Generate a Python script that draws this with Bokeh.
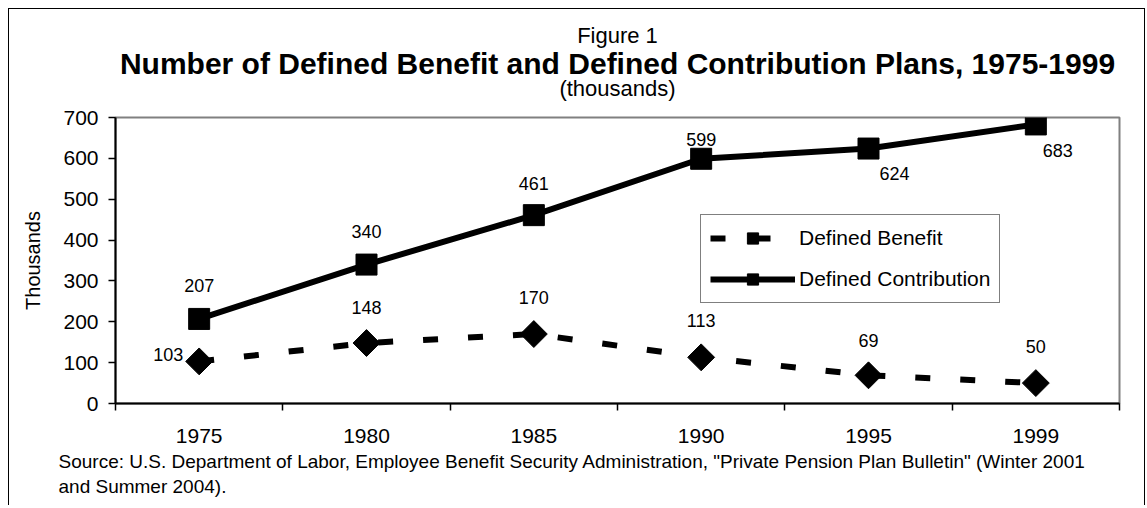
import math
from bokeh.plotting import figure
from bokeh.layouts import column
from bokeh.models import (Range1d, FixedTicker, Legend, LegendItem, Title, Label, ColumnDataSource)
from bokeh.core.properties import value
from bokeh.embed import file_html
from bokeh.resources import INLINE

# ---- data ----
years = ["1975", "1980", "1985", "1990", "1995", "1999"]
defined_benefit = [103, 148, 170, 113, 69, 50]
defined_contribution = [207, 340, 461, 599, 624, 683]
y_ticks = [0, 100, 200, 300, 400, 500, 600, 700]

# ---- label placement (styles, px) ----
db_dx = [-31, 0, 0, 0, 0, 0]
db_dy = [-7, -36, -37, -37, -35, -37]
dc_dx = [0, 0, 0, 0, 26, 22]
dc_dy = [-33, -33, -32, -19, 25, 26]

FONT = "Liberation Sans"
W = 1135
TOP_H = 96
BL, BR = 106, 25
xs = list(range(len(years)))

# ---------------- title strip ----------------
tf = figure(width=W, height=TOP_H, output_backend="svg", toolbar_location=None,
            x_range=Range1d(0, 1), y_range=Range1d(TOP_H, 0),
            min_border_left=BL, min_border_right=BR, min_border_top=0, min_border_bottom=0)
tf.axis.visible = False
tf.grid.visible = False
tf.outline_line_color = None
tf.background_fill_color = "white"
tf.border_fill_color = "white"
tf.add_layout(Label(x=0.5, y=25.5, text="Figure 1", text_align="center", text_baseline="middle",
                    text_font=FONT, text_font_size="22px", text_color="black"))
tf.add_layout(Label(x=0.5, y=53.5,
                    text="Number of Defined Benefit and Defined Contribution Plans, 1975-1999",
                    text_align="center", text_baseline="middle", text_font=FONT,
                    text_font_size="30px", text_font_style="bold", text_color="black"))
tf.add_layout(Label(x=0.5, y=78.5, text="(thousands)", text_align="center", text_baseline="middle",
                    text_font=FONT, text_font_size="22px", text_color="black"))

# ---------------- main chart ----------------
p = figure(width=W, height=496 - TOP_H, output_backend="svg", toolbar_location=None,
           x_range=Range1d(-0.5, len(years) - 0.5), y_range=Range1d(0, 700),
           min_border_left=BL, min_border_right=BR, min_border_top=12, min_border_bottom=102)
p.xgrid.visible = False
p.ygrid.visible = False
p.outline_line_color = "#808080"
p.outline_line_width = 2
p.background_fill_color = "white"
p.border_fill_color = "white"

# x axis: labels at centres, ticks between categories
p.xaxis.ticker = FixedTicker(ticks=xs, minor_ticks=[i - 0.5 for i in range(len(years) + 1)])
p.xaxis.major_label_overrides = {i: y for i, y in enumerate(years)}
p.xaxis.major_tick_out = 7
p.xaxis.major_tick_in = 0
p.xaxis.minor_tick_out = 7
p.xaxis.minor_tick_in = 0
p.xaxis.minor_tick_line_color = "black"
p.xaxis.minor_tick_line_width = 1.5
p.xaxis.major_label_standoff = 18

p.yaxis.ticker = FixedTicker(ticks=y_ticks, minor_ticks=[])
p.yaxis.major_tick_out = 7
p.yaxis.major_tick_in = 0
p.yaxis.major_tick_line_width = 1.5
p.yaxis.major_label_standoff = 10
p.yaxis.axis_label = "Thousands"
p.yaxis.axis_label_standoff = 16
p.yaxis.axis_label_text_font_style = "normal"

for ax in (p.xaxis, p.yaxis):
    ax.axis_line_color = "black"
    ax.axis_line_width = 2
    ax.major_label_text_font = FONT
    ax.major_label_text_font_size = "21px"
    ax.major_label_text_color = "black"
    ax.axis_label_text_font = FONT
    ax.axis_label_text_font_size = "20px"
    ax.axis_label_text_color = "black"
p.xaxis.major_tick_line_color = None
p.yaxis.major_tick_line_color = "black"

# ---- series ----
db_src = ColumnDataSource(dict(x=xs, y=defined_benefit, t=[str(v) for v in defined_benefit],
                               dx=db_dx, dy=db_dy))
dc_src = ColumnDataSource(dict(x=xs, y=defined_contribution, t=[str(v) for v in defined_contribution],
                               dx=dc_dx, dy=dc_dy))

db_line = p.line("x", "y", source=db_src, line_color="black", line_width=6, line_dash="15 30")
db_pts = p.scatter("x", "y", source=db_src, marker="square", angle=math.pi / 4, size=19,
                   fill_color="black", line_color="black")
dc_line = p.line("x", "y", source=dc_src, line_color="black", line_width=6)
dc_pts = p.scatter("x", "y", source=dc_src, marker="square", size=21,
                   fill_color="black", line_color="black")

for src in (db_src, dc_src):
    p.text("x", "y", text="t", source=src, x_offset="dx", y_offset="dy",
           text_align="center", text_baseline="middle", text_font=value(FONT),
           text_font_size="18px", text_color="black")

legend = Legend(items=[LegendItem(label="Defined Benefit", renderers=[db_line, db_pts]),
                       LegendItem(label="Defined Contribution", renderers=[dc_line, dc_pts])],
                location=(585, 100), glyph_width=85, glyph_height=28, label_standoff=4,
                spacing=13, padding=9, margin=0,
                label_text_font=FONT, label_text_font_size="21px", label_text_color="black",
                border_line_color="black", border_line_width=1, background_fill_color="white",
                background_fill_alpha=1)
p.add_layout(legend, "center")

# ---- source note ----
p.add_layout(Title(text="Source: U.S. Department of Labor, Employee Benefit Security Administration, \"Private Pension Plan Bulletin\" (Winter 2001",
                   align="left", offset=-57, text_font=FONT, text_font_size="19px",
                   text_font_style="normal", text_color="black", standoff=6), "below")
p.add_layout(Title(text="and Summer 2004).", align="left", offset=-57, text_font=FONT,
                   text_font_size="19px", text_font_style="normal", text_color="black",
                   standoff=-2), "below")

page = column(tf, p, spacing=0)
page.styles = {"border-top": "1.5px solid black", "border-left": "1.5px solid black",
               "border-right": "1.5px solid black", "margin-left": "8px", "margin-top": "8px"}

open("out.html", "w").write(file_html(page, INLINE))
